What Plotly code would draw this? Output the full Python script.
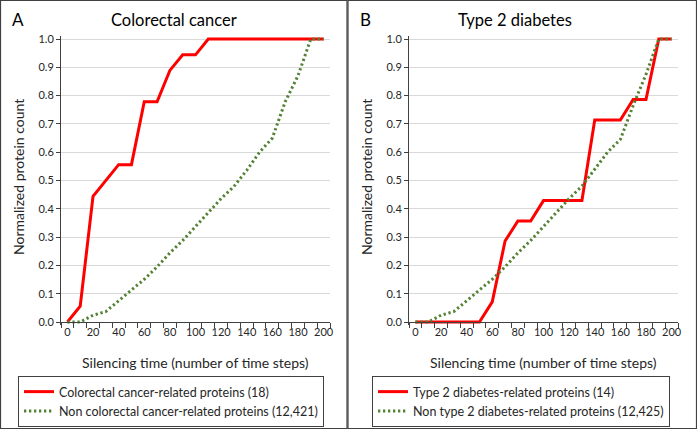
import plotly.graph_objects as go

# data
steps = [0, 10, 20, 30, 40, 50, 60, 70, 80, 90, 100,
         110, 120, 130, 140, 150, 160, 170, 180, 190, 200]
tick_labels = [0, 20, 40, 60, 80, 100, 120, 140, 160, 180, 200]

crc = [0.0, 0.056, 0.444, 0.5, 0.556, 0.556, 0.778, 0.778, 0.889, 0.944, 0.944,
       1.0, 1.0, 1.0, 1.0, 1.0, 1.0, 1.0, 1.0, 1.0, 1.0]
non_crc = [0.0, 0.0, 0.024, 0.037, 0.075, 0.112, 0.151, 0.195, 0.244, 0.288, 0.337,
           0.386, 0.436, 0.479, 0.536, 0.600, 0.650, 0.778, 0.870, 1.0, 1.0]

t2d = [0.0, 0.0, 0.0, 0.0, 0.0, 0.0, 0.071, 0.286, 0.357, 0.357, 0.429,
       0.429, 0.429, 0.429, 0.714, 0.714, 0.714, 0.786, 0.786, 1.0, 1.0]
non_t2d = [0.0, 0.0, 0.024, 0.037, 0.075, 0.112, 0.151, 0.195, 0.244, 0.288, 0.337,
           0.386, 0.436, 0.480, 0.540, 0.600, 0.645, 0.765, 0.875, 1.0, 1.0]

W, H = 697, 429
FONT = "Lato"
TXT = "#262626"
AX = "#404040"
DOTS = dict(color="#548235", width=3, dash="2.3px,2.7px")


def fx(p):
    return p / W


def fy(p):
    return 1 - p / H


fig = go.Figure()

fig.add_trace(go.Scatter(x=steps, y=crc, mode="lines", name="Colorectal cancer-related proteins (18)",
                         line=dict(color="#ff0000", width=3), xaxis="x", yaxis="y", legend="legend"))
fig.add_trace(go.Scatter(x=steps, y=non_crc, mode="lines", name="Non colorectal cancer-related proteins (12,421)",
                         line=DOTS, xaxis="x", yaxis="y", legend="legend"))
fig.add_trace(go.Scatter(x=steps, y=t2d, mode="lines", name="Type 2 diabetes-related proteins (14)",
                         line=dict(color="#ff0000", width=3), xaxis="x2", yaxis="y2", legend="legend2"))
fig.add_trace(go.Scatter(x=steps, y=non_t2d, mode="lines", name="Non type 2 diabetes-related proteins (12,425)",
                         line=DOTS, xaxis="x2", yaxis="y2", legend="legend2"))

minor_ticks = [s - 5 for s in steps] + [205]

ydom = [fy(325.4), fy(35.6)]


def xax(left, right, yname):
    return dict(domain=[fx(left), fx(right)], range=[-5, 205], anchor="free", position=fy(322),
                tickvals=tick_labels, ticks="", showgrid=False, zeroline=False,
                showline=True, linecolor=AX, linewidth=1,
                minor=dict(tickvals=minor_ticks, ticks="outside", ticklen=5, tickcolor=AX, showgrid=False),
                tickfont=dict(family=FONT, size=11, color=TXT), fixedrange=True)


def yax(xname):
    return dict(domain=ydom, range=[-0.012, 1.012], anchor=xname,
                tickvals=[0, 0.1, 0.2, 0.3, 0.4, 0.5, 0.6, 0.7, 0.8, 0.9, 1.0], tickformat=".1f",
                showgrid=True, gridcolor="#d9d9d9", gridwidth=1, zeroline=False,
                showline=True, linecolor=AX, linewidth=1, ticks="outside", ticklen=4, tickcolor=AX,
                tickfont=dict(family=FONT, size=11, color=TXT), fixedrange=True)


def legend_box(left, top):
    return dict(x=fx(left), y=fy(top), xanchor="left", yanchor="top", bgcolor="white",
                bordercolor=AX, borderwidth=1, font=dict(family=FONT, size=12.5, color=TXT),
                tracegroupgap=0, itemwidth=30)


annotations = []
for label, title, xt, xp, xl in [("A", "Colorectal cancer", 174, 18, 61),
                                 ("B", "Type 2 diabetes", 515, 365, 409)]:
    annotations.append(dict(text=title, x=fx(xt), y=fy(20), xref="paper", yref="paper",
                            xanchor="center", yanchor="middle", showarrow=False,
                            font=dict(family=FONT, size=16.5, color="black")))
    annotations.append(dict(text=label, x=fx(xp), y=fy(20), xref="paper", yref="paper",
                            xanchor="center", yanchor="middle", showarrow=False,
                            font=dict(family=FONT, size=17, color="black")))
    annotations.append(dict(text="Normalized protein count", x=fx(xl - 43), y=fy(177), xref="paper",
                            yref="paper", xanchor="center", yanchor="middle", textangle=-90,
                            showarrow=False, font=dict(family=FONT, size=14, color=TXT)))
    annotations.append(dict(text="Silencing time (number of time steps)", x=fx(xl + 134), y=fy(362),
                            xref="paper", yref="paper", xanchor="center", yanchor="middle",
                            showarrow=False, font=dict(family=FONT, size=14, color=TXT)))

shapes = [
    dict(type="rect", xref="paper", yref="paper", x0=fx(0.5), x1=fx(347), y0=fy(428.5), y1=fy(0.5),
         line=dict(color=AX, width=1.2)),
    dict(type="rect", xref="paper", yref="paper", x0=fx(348), x1=fx(696.5), y0=fy(428.5), y1=fy(0.5),
         line=dict(color=AX, width=1.2)),
]

fig.update_layout(
    width=W, height=H, margin=dict(l=0, r=0, t=0, b=0, autoexpand=False),
    paper_bgcolor="white", plot_bgcolor="white",
    xaxis=xax(61, 330, "y"), yaxis=yax("x"),
    xaxis2=xax(409, 678, "y2"), yaxis2=yax("x2"),
    legend=legend_box(18, 376), legend2=legend_box(372, 376),
    annotations=annotations, shapes=shapes, showlegend=True,
)

fig.write_html("out.html", config={"displayModeBar": False},
               post_script="document.body.style.margin='0';document.body.style.overflow='hidden';")
